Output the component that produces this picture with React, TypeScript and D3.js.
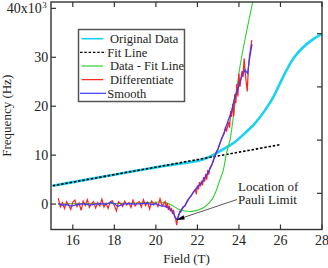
import React from 'react';
import * as d3 from 'd3';

// field values (T) and frequency values (kHz)
const fitField = [15.03, 25.98];
const fitFreq = [3.74, 12.13];

const origField = [15.03, 16, 17, 18, 19, 20, 20.6, 21.23, 21.7, 22.04, 22.45, 22.84, 23.32, 23.81, 24.29, 24.77, 25.26, 25.66, 25.98, 26.3, 26.63, 27.03, 27.51, 28.0];
const origFreq = [3.74, 4.48, 5.25, 6.01, 6.78, 7.5, 7.9, 8.3, 8.6, 8.86, 9.4, 10.2, 11.4, 12.7, 14.5, 16.5, 19.2, 21.9, 24.7, 27.4, 29.8, 31.8, 33.5, 34.8];

const diffFitField = [15.3, 16, 17, 18, 19, 19.78, 20.43, 20.75, 21.07, 21.39, 21.71, 22.04, 22.36, 22.68, 22.92, 23.08, 23.25, 23.4, 23.57, 24.05, 24.7];
const diffFitFreq = [0.0, 0.05, 0.1, 0.12, 0.2, 0.35, 0.35, -0.2, -1.0, -1.43, -1.5, -1.23, -0.55, 0.8, 2.9, 4.9, 7.0, 10.4, 13.1, 28.1, 42.0];

const derivField = [
  15.3, 15.4, 15.5, 15.6, 15.7, 15.8, 15.9, 16.0, 16.1, 16.2, 16.3, 16.4, 16.5, 16.6, 16.7, 16.8, 16.9, 17.0,
  17.1, 17.2, 17.3, 17.4, 17.5, 17.6, 17.7, 17.8, 17.9, 18.0, 18.1, 18.2, 18.3, 18.4, 18.5, 18.6, 18.7, 18.8,
  18.9, 19.0, 19.1, 19.2, 19.3, 19.4, 19.5, 19.6, 19.7, 19.8, 19.9, 20.0, 20.1, 20.2, 20.3, 20.4,
  20.45, 20.5, 20.55, 20.6, 20.65, 20.7, 20.75, 20.8, 20.85, 20.9, 20.95, 21.0, 21.05, 21.1, 21.15, 21.2,
  21.3, 21.4, 21.5, 21.6, 21.7, 21.8, 21.9, 21.95, 22.0, 22.05, 22.1, 22.15, 22.2, 22.25, 22.3, 22.35, 22.4,
  22.45, 22.5, 22.55, 22.6, 22.7, 22.8, 22.9, 23.0, 23.1, 23.2, 23.3, 23.35, 23.4, 23.5, 23.55, 23.6, 23.65,
  23.7, 23.75, 23.8, 23.85, 23.9, 23.95, 24.0, 24.05, 24.1, 24.15, 24.2, 24.25, 24.3, 24.35, 24.4, 24.45,
  24.5, 24.55, 24.62,
];
const derivFreq = [
  1.2, -0.6, 0.3, -0.9, 0.5, -0.2, -1.1, 0.4, 0.8, -0.5, 0.2, -1.3, 0.6, -0.3, 0.9, -0.7, 0.1, 0.5,
  -0.8, 0.3, -0.4, 1.0, -0.6, 0.2, -0.9, 0.4, 0.7, -0.3, -1.4, 0.5, 0.1, -0.5, 0.6, -0.2, 0.3, -0.7,
  0.8, -0.4, 0.2, 0.5, -0.6, 0.9, -0.3, 0.4, -1.0, 0.6, -0.2, 0.3, -0.5, 1.1, -0.4, 0.2,
  0.5, -0.8, 0.2, -1.2, -0.3, -1.5, -0.8, -2.0, -1.2, -2.6, -3.0, -4.3, -3.0, -2.4, -1.5, -1.6,
  -0.6, -0.4, 0.6, 1.2, 1.6, 2.4, 3.0, 2.0, 3.8, 3.0, 4.5, 3.6, 4.8, 3.8, 5.5, 4.6, 6.2,
  5.0, 7.0, 6.0, 7.4, 8.2, 9.4, 10.6, 11.3, 12.6, 13.6, 14.5, 15.8, 14.8, 16.8, 15.6, 19.0, 17.8,
  20.5, 18.0, 22.5, 20.6, 24.6, 22.0, 26.7, 24.0, 25.8, 27.2, 26.0, 29.8, 27.0, 25.0, 23.0, 27.5,
  30.0, 31.5, 33.5,
];

const smoothField = [
  15.3, 15.5, 15.7, 15.93, 16.2, 16.5, 16.8, 17.1, 17.4, 17.6, 17.8, 18.0, 18.17, 18.4, 18.7, 19.0, 19.3,
  19.6, 19.8, 20.0, 20.2, 20.4, 20.6, 20.8, 20.95, 21.02, 21.1, 21.25, 21.4, 21.55, 21.7, 21.85, 22.0,
  22.2, 22.35, 22.5, 22.7, 22.85, 23.0, 23.16, 23.3, 23.49, 23.65, 23.8, 23.97, 24.13, 24.29, 24.42,
  24.52, 24.63,
];
const smoothFreq = [
  0.1, -0.2, -0.1, -0.4, -0.1, 0.1, -0.2, 0.0, 0.1, -0.1, 0.4, 0.1, -0.5, 0.0, 0.1, 0.0, 0.1,
  0.2, -0.1, 0.1, -0.3, -0.4, -0.7, -1.5, -2.8, -3.2, -2.2, -1.0, -0.3, 0.8, 1.8, 2.7, 3.5,
  4.3, 5.3, 6.3, 8.0, 9.8, 11.4, 13.3, 14.8, 17.2, 19.0, 21.9, 23.7, 26.0, 27.4, 26.7,
  30.0, 32.7,
];

const xTicks = [16, 18, 20, 22, 24, 26, 28];
const yTicks = [0, 10, 20, 30, 40];
const rightTicks = [10, 20, 30, 40];

const legendItems = ['Original Data', 'Fit Line', 'Data - Fit Line', 'Differentiate', 'Smooth'];
const legendColors = ['#17d2f4', '#000', '#2fd22f', '#ff2020', '#3b3bff'];

const font = "'Liberation Serif', 'DejaVu Serif', serif";

export default function App() {
  const width = 328;
  const height = 268;
  const left = 51, right = 322, top = 2, bottom = 229.5;

  const x = d3.scaleLinear().domain([14.95, 28]).range([left, right]);
  const y = d3.scaleLinear().domain([-5.2, 41.3]).range([bottom, top]);
  const yRight = d3.scaleLinear().domain([3.2, 45.96]).range([bottom, top]);

  const line = (xs: number[], ys: number[], curve: d3.CurveFactory = d3.curveLinear) =>
    d3.line<number>().x((d) => x(d)).y((_, i) => y(ys[i])).curve(curve)(xs) || '';

  return (
    <svg width={width} height={height} style={{ position: 'absolute', left: 0, top: 0, fontFamily: font }}>
      <defs>
        <clipPath id="plot">
          <rect x={left} y={top} width={right - left} height={bottom - top} />
        </clipPath>
      </defs>
      <rect width={width} height={height} fill="#fff" />

      <g clipPath="url(#plot)" fill="none">
        <path d={line(origField, origFreq, d3.curveCatmullRom)} stroke={legendColors[0]} strokeWidth={2.6} />
        <path d={line(fitField, fitFreq)} stroke="#000" strokeWidth={1.6} strokeDasharray="2.5,1.8" />
        <path d={line(diffFitField, diffFitFreq, d3.curveCatmullRom)} stroke={legendColors[2]} strokeWidth={1.1} />
        <path d={line(derivField, derivFreq)} stroke={legendColors[3]} strokeWidth={1.2} />
        <path d={line(smoothField, smoothFreq)} stroke={legendColors[4]} strokeWidth={1.3} />
      </g>

      {/* frame */}
      <rect x={left} y={top} width={right - left} height={bottom - top} fill="none" stroke="#333" strokeWidth={1.4} />

      {/* ticks, all inward */}
      <g stroke="#333" strokeWidth={1.2}>
        {xTicks.map((t) => (
          <g key={'x' + t}>
            <line x1={x(t)} x2={x(t)} y1={bottom} y2={bottom - 5} />
            <line x1={x(t)} x2={x(t)} y1={top} y2={top + 5} />
          </g>
        ))}
        {yTicks.map((t) => (
          <line key={'y' + t} x1={left} x2={left + 5} y1={y(t)} y2={y(t)} />
        ))}
        {rightTicks.map((t) => (
          <line key={'r' + t} x1={right} x2={right - 5} y1={yRight(t)} y2={yRight(t)} />
        ))}
      </g>

      <g fontSize={14} fill="#222">
        {xTicks.map((t) => (
          <text key={'xl' + t} x={x(t)} y={245} textAnchor="middle">{t}</text>
        ))}
        {yTicks.map((t) =>
          t === 40 ? (
            <text key={'yl' + t} x={46.7} y={y(t) + 5} textAnchor="end">
              40x10<tspan fontSize={9} dy={-5.5} dx={0.5}>3</tspan>
            </text>
          ) : (
            <text key={'yl' + t} x={48.3} y={y(t) + 5} textAnchor="end">{t}</text>
          )
        )}
      </g>

      <text x={(left + right) / 2} y={263} textAnchor="middle" fontSize={13} fill="#222">Field (T)</text>
      <text transform={`translate(11,${(top + bottom) / 2}) rotate(-90)`} textAnchor="middle" fontSize={13} fill="#222">
        Frequency (Hz)
      </text>

      {/* legend */}
      <rect x={78.5} y={29.5} width={106} height={72} fill="#fff" stroke="#555" strokeWidth={1.5} />
      {legendItems.map((name, i) => {
        const cy = 38.7 + i * 13.65;
        const long = i === 1 || i === 4;
        return (
          <g key={name}>
            <line x1={long ? 80 : 81.7} x2={long ? 106 : 103.3} y1={cy} y2={cy}
              stroke={legendColors[i]} strokeWidth={i === 0 ? 1.6 : 1.2}
              strokeDasharray={i === 1 ? '2.5,1.8' : undefined} />
            <text x={long ? 107.3 : 110} y={cy + 4.3} fontSize={12.5} fill="#222">{name}</text>
          </g>
        );
      })}

      {/* annotation */}
      <g fontSize={13} fill="#222">
        <text x={238} y={190.5}>Location of</text>
        <text x={238} y={204}>Pauli Limit</text>
      </g>
      <line x1={237} y1={199.5} x2={182} y2={218} stroke="#444" strokeWidth={0.9} />
      <path d="M176,220 L183.5,215.3 L184.8,219.6 Z" fill="#000" />
    </svg>
  );
}
